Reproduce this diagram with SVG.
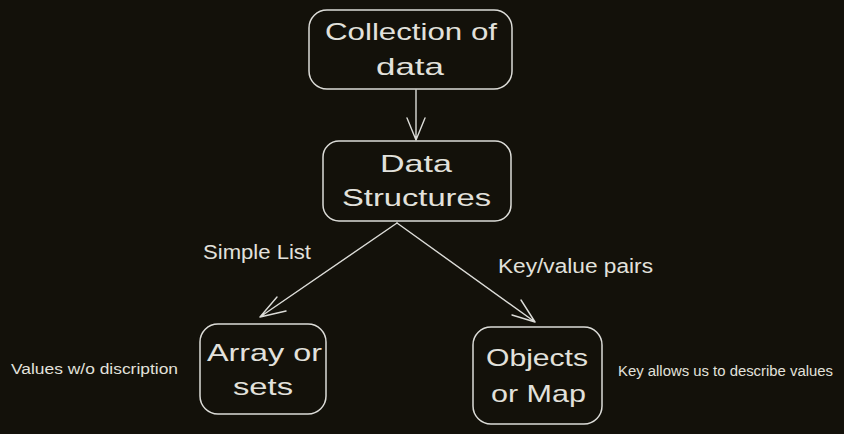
<svg xmlns="http://www.w3.org/2000/svg" width="844" height="434" viewBox="0 0 844 434">
<style>
.box{fill:none;stroke:#dcdcd8;stroke-width:1.5}
.ln{fill:none;stroke:#dcdcd8;stroke-width:1.4;stroke-linecap:round;stroke-linejoin:round}
text{font-family:"Liberation Sans",Arial,sans-serif;fill:#e2e1dc}
.big{font-size:24px}
.mid{font-size:20px}
.sm{font-size:14px}
</style>
<rect width="844" height="434" fill="#13110a"/>
<g id="connectors">
<path class="ln" d="M416 90 L416 140 M407 118 L416 140 L425 118"/>
<path class="ln" d="M397 223 L260 317 M277 297 L260 317 L286 311"/>
<path class="ln" d="M397 223 L535 322 M521 300 L535 322 L512 315"/>
</g>
<g id="node-collection">
<rect class="box" x="309" y="10" width="203" height="79" rx="18"/>
<text class="big" x="325" y="40" textLength="172" lengthAdjust="spacingAndGlyphs">Collection of</text>
<text class="big" x="376" y="75" textLength="68" lengthAdjust="spacingAndGlyphs">data</text>
</g>
<g id="node-datastructures">
<rect class="box" x="323" y="141" width="188" height="80" rx="16"/>
<text class="big" x="380" y="172" textLength="72" lengthAdjust="spacingAndGlyphs">Data</text>
<text class="big" x="342" y="206" textLength="149" lengthAdjust="spacingAndGlyphs">Structures</text>
</g>
<g id="node-array">
<rect class="box" x="200" y="324" width="126" height="90" rx="18"/>
<text class="big" x="207" y="361" textLength="115" lengthAdjust="spacingAndGlyphs">Array or</text>
<text class="big" x="233" y="395" textLength="60" lengthAdjust="spacingAndGlyphs">sets</text>
</g>
<g id="node-objects">
<rect class="box" x="473" y="327" width="129" height="97" rx="18"/>
<text class="big" x="486" y="366" textLength="102" lengthAdjust="spacingAndGlyphs">Objects</text>
<text class="big" x="491" y="402" textLength="95" lengthAdjust="spacingAndGlyphs">or Map</text>
</g>
<g id="labels">
<text class="mid" x="203" y="259" textLength="108" lengthAdjust="spacingAndGlyphs">Simple List</text>
<text class="mid" x="498" y="273" textLength="155" lengthAdjust="spacingAndGlyphs">Key/value pairs</text>
<text class="sm" x="11" y="374" textLength="167" lengthAdjust="spacingAndGlyphs">Values w/o discription</text>
<text class="sm" x="618" y="376" textLength="215" lengthAdjust="spacingAndGlyphs">Key allows us to describe values</text>
</g>
</svg>
